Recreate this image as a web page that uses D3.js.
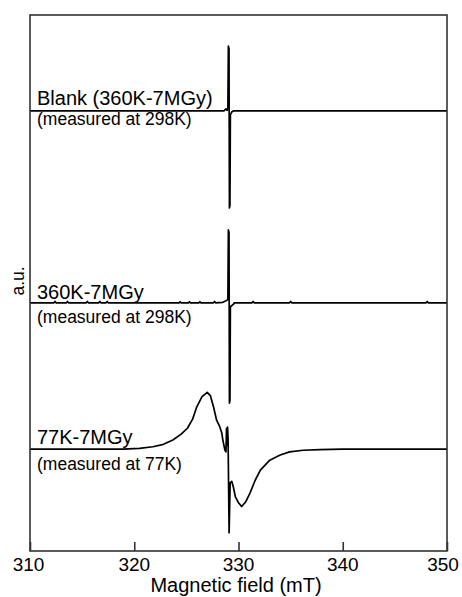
<!DOCTYPE html>
<html><head><meta charset="utf-8">
<script src="https://cdn.jsdelivr.net/npm/d3@7"></script>
<style>body{margin:0;background:#fff}svg{display:block}text{font-family:"Liberation Sans",Arial,sans-serif;fill:#000}</style>
</head><body><svg id="c" width="462" height="597"></svg>
<script>
// Tick labels
const xTicks = [310, 320, 330, 340, 350];
// Spectrum names
const labels = ["Blank (360K-7MGy)", "360K-7MGy", "77K-7MGy"];
const subLabels = ["(measured at 298K)", "(measured at 298K)", "(measured at 77K)"];
// Vertical offsets (a.u.) of each trace baseline
const offsets = [82.1, 46.3, 19.0];
// Trace 1: Blank (field mT, signal a.u.)
const blankField = [310, 328.6, 328.8, 328.9, 328.98, 329.03, 329.09, 329.13, 329.18, 329.22, 329.28, 329.35, 329.5, 350];
const blankValue = [0, 0, 0.4, 0.1, 0.5, 12.1, 11.6, -18.1, -17.6, -0.7, -0.5, -0.2, 0, 0];
// Trace 2: 360K-7MGy
const midField = [310, 312.3, 312.4, 312.5, 313.5, 313.6, 313.7, 315.4, 315.5, 315.6, 316.6, 316.7, 316.8, 317.3, 317.4, 317.5, 324.3, 324.4, 324.5, 325.2, 325.3, 325.4, 326.2, 326.3, 326.4, 327.6, 327.7, 327.8, 328.5, 328.8, 328.98, 329.03, 329.09, 329.13, 329.18, 329.22, 329.3, 329.5, 329.6, 331.3, 331.4, 331.5, 334.9, 335.0, 335.1, 348.0, 348.1, 348.2, 350];
const midValue = [0, 0, 0.25, 0, 0, 0.25, 0, 0, 0.25, 0, 0, 0.25, 0, 0, 0.25, 0, 0, 0.2, 0, 0, 0.2, 0, 0, 0.2, 0, 0, 0.25, 0, 0.1, 0.4, 0.6, 13.6, 13.1, -18.7, -18.2, -0.8, -0.6, -0.3, 0, 0, 0.25, 0, 0, 0.25, 0, 0, 0.25, 0, 0];
// Trace 3: 77K-7MGy
const lowField = [310, 318.9, 320.5, 321.8, 322.8, 323.7, 324.5, 325.1, 325.6, 326.0, 326.5, 327.0, 327.3, 327.6, 327.9, 328.2, 328.4, 328.5, 328.7, 328.8, 328.85, 328.9, 328.95, 329.0, 329.1, 329.2, 329.35, 329.5, 329.7, 330.0, 330.3, 330.7, 331.1, 331.6, 332.1, 333.0, 334.0, 334.9, 336.2, 337.8, 340, 350];
const lowValue = [0, 0, 0.15, 0.45, 0.9, 1.7, 2.8, 3.9, 5.6, 7.9, 9.8, 10.6, 10.0, 7.9, 5.4, 4.2, 3.0, 1.7, -0.2, -0.5, 3.9, 0.7, 4.1, 2.0, -15.6, -6.3, -6.0, -7.0, -8.9, -10.0, -10.7, -9.8, -8.2, -5.8, -3.9, -2.05, -1.1, -0.5, -0.2, -0.1, 0, 0];

const svg = d3.select("#c");
const L = 30, R = 447, T = 15, B = 551;
const x = d3.scaleLinear().domain([310, 350]).range([L, R]);
const y = d3.scaleLinear().domain([0, 100]).range([B, T]);

const traces = [[blankField, blankValue], [midField, midValue], [lowField, lowValue]];
const line = d3.line().x(d => x(d[0])).y(d => y(d[1]));
traces.forEach(([f, v], i) => {
  const pts = f.map((fi, k) => [fi, v[k] + offsets[i]]);
  svg.append("path").attr("d", line(pts)).attr("fill", "none")
    .attr("stroke", "#000").attr("stroke-width", 1.7).attr("stroke-linejoin", "round");
});

// frame
svg.append("rect").attr("x", L).attr("y", T).attr("width", R - L).attr("height", B - T)
  .attr("fill", "none").attr("stroke", "#333").attr("stroke-width", 1.6);

// bottom axis with inward ticks
const ax = d3.axisBottom(x).tickValues(xTicks).tickSizeInner(-9).tickSizeOuter(0).tickPadding(6.5);
const g = svg.append("g").attr("transform", `translate(0,${B})`).call(ax);
g.select(".domain").remove();
g.selectAll(".tick line").attr("stroke", "#333").attr("stroke-width", 1.6);
g.selectAll(".tick text").attr("font-size", 19).attr("font-family", "Liberation Sans, Arial, sans-serif").attr("fill", "#000")
  .attr("dx", d => d === 350 ? -4.5 : (d === 310 ? -2 : -0.5));

svg.append("text").attr("x", 236).attr("y", 592).attr("text-anchor", "middle")
  .attr("font-size", 20).text("Magnetic field (mT)");
svg.append("text").attr("transform", "translate(24,281) rotate(-90)").attr("text-anchor", "middle")
  .attr("font-size", 17.5).text("a.u.");

const labelY = [105, 298.5, 444];
const subY = [124.5, 323, 469.5];
labels.forEach((t, i) => {
  svg.append("text").attr("x", L + 7).attr("y", labelY[i]).attr("font-size", 20).text(t);
  svg.append("text").attr("x", L + 7).attr("y", subY[i]).attr("font-size", 17.5).text(subLabels[i]);
});
</script></body></html>
